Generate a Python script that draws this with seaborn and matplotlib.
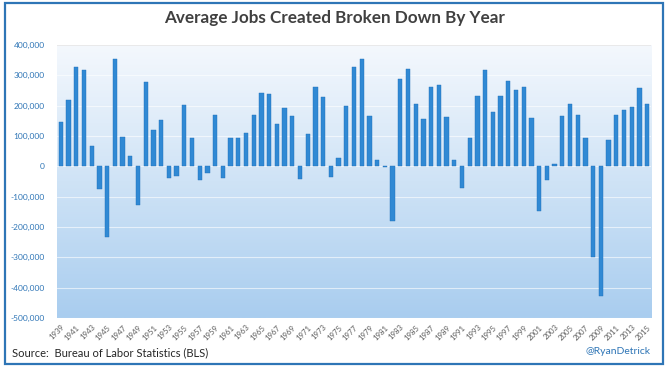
import numpy as np
import pandas as pd
import matplotlib
matplotlib.use("Agg")
import matplotlib.pyplot as plt
import seaborn as sns
from matplotlib.patches import Rectangle
from matplotlib.colors import LinearSegmentedColormap

years = list(range(1939, 2016))
jobs = [145000, 218000, 327000, 316000, 67000, -76000, -233000, 354000, 98000, 34000,
        -128000, 277000, 119000, 152000, -37000, -32000, 203000, 92000, -45000, -23000,
        170000, -38000, 92000, 95000, 110000, 170000, 241000, 237000, 141000, 192000,
        165000, -43000, 108000, 260000, 227000, -34000, 29000, 200000, 329000, 354000,
        165000, 20000, -3000, -181000, 288000, 321000, 206000, 156000, 260000, 268000,
        161000, 21000, -71000, 95000, 233000, 319000, 178000, 233000, 280000, 252000,
        263000, 159000, -148000, -45000, 7000, 167000, 206000, 170000, 94000, -300000,
        -427000, 86000, 170000, 185000, 196000, 258000, 204000]
y_ticks = [400000, 300000, 200000, 100000, 0, -100000, -200000, -300000, -400000, -500000]
y_tick_labels = ["400,000", "300,000", "200,000", "100,000", "0", "-100,000",
                 "-200,000", "-300,000", "-400,000", "-500,000"]
title = "Average Jobs Created Broken Down By Year"
source = "Source:  Bureau of Labor Statistics (BLS)"
handle = "@RyanDetrick"

df = pd.DataFrame({"year": [str(y) for y in years], "jobs": jobs})

sns.set_theme(style="white")
plt.rcParams['font.family'] = ['Lato', 'DejaVu Sans']

fig = plt.figure(figsize=(6.7, 3.69), dpi=100)
ax = fig.add_axes([57/670, 1-318/369, (651-57)/670, (318-45)/369])

# gradient background
grad = np.linspace(0, 1, 256).reshape(-1, 1)
cmap = LinearSegmentedColormap.from_list("bg", ["#f4f8fd", "#cfe3f6", "#a9cdef"])
ax.imshow(grad, aspect="auto", cmap=cmap, origin="upper",
          extent=(-0.5, len(years) - 0.5, -500000, 400000), zorder=0)

for t in y_ticks:
    ax.axhline(t, color="white", lw=0.8, alpha=0.6, zorder=1)
ax.axhline(400000, color="#e6e6e6", lw=1.2, zorder=1)

sns.barplot(data=df, x="year", y="jobs", color="#3089d4", width=0.56,
            edgecolor="#1f6fb8", linewidth=0.3, ax=ax, zorder=3, saturation=1)

ax.set_xlim(-0.5, len(years) - 0.5)
ax.set_ylim(-500000, 400000)
ax.set_yticks(y_ticks)
ax.set_yticklabels(y_tick_labels, color="#2e75b6", fontsize=6)
ticks = list(range(0, len(years), 2))
ax.set_xticks(ticks)
ax.set_xticklabels([str(years[i]) for i in ticks], rotation=45, ha="right",
                   rotation_mode="anchor", color="#595959", fontsize=5.6)
ax.tick_params(axis="y", length=0, pad=9)
ax.tick_params(axis="x", length=0, pad=4)
ax.set_xlabel("")
ax.set_ylabel("")
for s in ax.spines.values():
    s.set_visible(False)

fig.text(335/670, 1-18/369, title, ha="center", va="center", fontsize=12.3,
         fontweight="bold", color="#404040")
fig.text(12/670, 1-353/369, source, ha="left", va="center", fontsize=8, color="#262626")
fig.text(650/670, 1-352/369, handle, ha="right", va="center", fontsize=7.5, color="#2e75b6")

fig.patches.append(Rectangle((5/670, 1-364/369), 658/670, 361/369, transform=fig.transFigure,
                             fill=False, edgecolor="#2e75b6", linewidth=1.6))

fig.savefig("out.png", dpi=100)
